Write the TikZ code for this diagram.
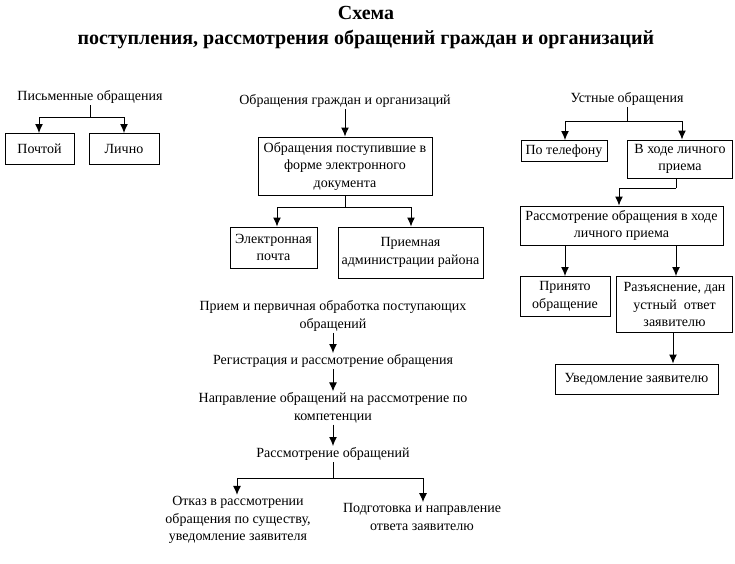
\documentclass[tikz,border=0pt]{standalone}
\usepackage{fontspec}
\setmainfont{Liberation Serif}
\usetikzlibrary{positioning,arrows.meta}

\begin{document}
\begin{tikzpicture}[x=1pt,y=-1pt,
    font=\fontsize{14}{17.5}\selectfont,
    line width=1pt,
    box/.style={draw, align=center, inner sep=1pt},
    txt/.style={align=center, inner sep=1pt},
    arr/.style={-{Latex[length=9pt,width=8pt]}}]

\useasboundingbox (0,0) rectangle (735,563);

% Title
\node[txt, font=\fontsize{20}{25}\selectfont\bfseries] (title) at (366,28)
    {Схема\\поступления, рассмотрения обращений граждан и организаций};

% Written requests
\node[txt] (written) at (90,97) {Письменные обращения};
\node[box,
    minimum width=69pt,
    minimum height=31pt] (post) at (39.5,149) {Почтой};
\node[box,
    minimum width=70pt,
    minimum height=31pt] (personal) at (124,149) {Лично};
\coordinate (split1) at (90,117);

% Electronic requests
\node[txt] (citizens) at (345,101) {Обращения граждан и организаций};
\node[box,
    minimum width=174pt,
    minimum height=58pt] (edoc) at (345,166)
    {Обращения поступившие в\\форме электронного\\документа};
\node[box,
    minimum width=87pt,
    minimum height=41pt] (email) at (273.5,247.5) {Электронная\\почта};
\node[box,
    minimum width=145pt,
    minimum height=51pt] (office) at (410.5,252.5) {Приемная\\администрации района};
\coordinate (split2) at (345,207);

% Processing chain
\node[txt] (intake) at (333,316) {Прием и первичная обработка поступающих\\обращений};
\node[txt] (register) at (333,361) {Регистрация и рассмотрение обращения};
\node[txt] (direct) at (333,408) {Направление обращений на рассмотрение по\\компетенции};
\node[txt] (review) at (333,454) {Рассмотрение обращений};
\node[txt] (refuse) at (238,520)
    {Отказ в рассмотрении\\обращения по существу,\\уведомление заявителя};
\node[txt] (answer) at (422,517) {Подготовка и направление\\ответа заявителю};
\coordinate (split3) at (333,478);

% Oral requests
\node[txt] (oral) at (627,99) {Устные обращения};
\node[box,
    minimum width=86pt,
    minimum height=21pt] (phone) at (564,151) {По телефону};
\node[box,
    minimum width=105pt,
    minimum height=38pt] (visit) at (680,159) {В ходе личного\\приема};
\node[box,
    minimum width=203pt,
    minimum height=39pt] (visitreview) at (621.5,225.5)
    {Рассмотрение обращения в ходе\\личного приема};
\node[box,
    minimum width=90pt,
    minimum height=40pt] (accepted) at (565,296.5) {Принято\\обращение};
\node[box,
    minimum width=116pt,
    minimum height=56pt] (explain) at (674.5,304.5)
    {Разъяснение, дан\\устный\ \ ответ\\заявителю};
\node[box,
    minimum width=163pt,
    minimum height=30pt] (notify) at (636.5,379) {Уведомление заявителю};
\coordinate (split4) at (627,121);
\coordinate (split5) at (676,188);

% Arrows
\draw (written) -- (split1);
\draw[arr] (split1) -| (post.north -| 39,0);
\draw[arr] (split1) -| (personal.north -| 124,0);

\draw[arr] (citizens) -- (edoc);
\draw (edoc) -- (split2);
\draw[arr] (split2) -| (email.north -| 277,0);
\draw[arr] (split2) -| (office.north -| 411,0);

\draw[arr] (intake) -- (register);
\draw[arr] (register) -- (direct);
\draw[arr] (direct) -- (review);
\draw (review) -- (split3);
\draw[arr] (split3) -| (refuse.north -| 237,0);
\draw[arr] (split3) -| (answer.north -| 423,0);

\draw (oral) -- (split4);
\draw[arr] (split4) -| (phone.north -| 565,0);
\draw[arr] (split4) -| (visit.north -| 682,0);
\draw (visit.south -| split5) -- (split5);
\draw[arr] (split5) -| (visitreview.north -| 619,0);
\draw[arr] (visitreview.south -| 565,0) -- (accepted);
\draw[arr] (visitreview.south -| 676,0) -- (explain.north -| 676,0);
\draw[arr] (explain.south -| 673,0) -- (notify.north -| 673,0);

\end{tikzpicture}
\end{document}
